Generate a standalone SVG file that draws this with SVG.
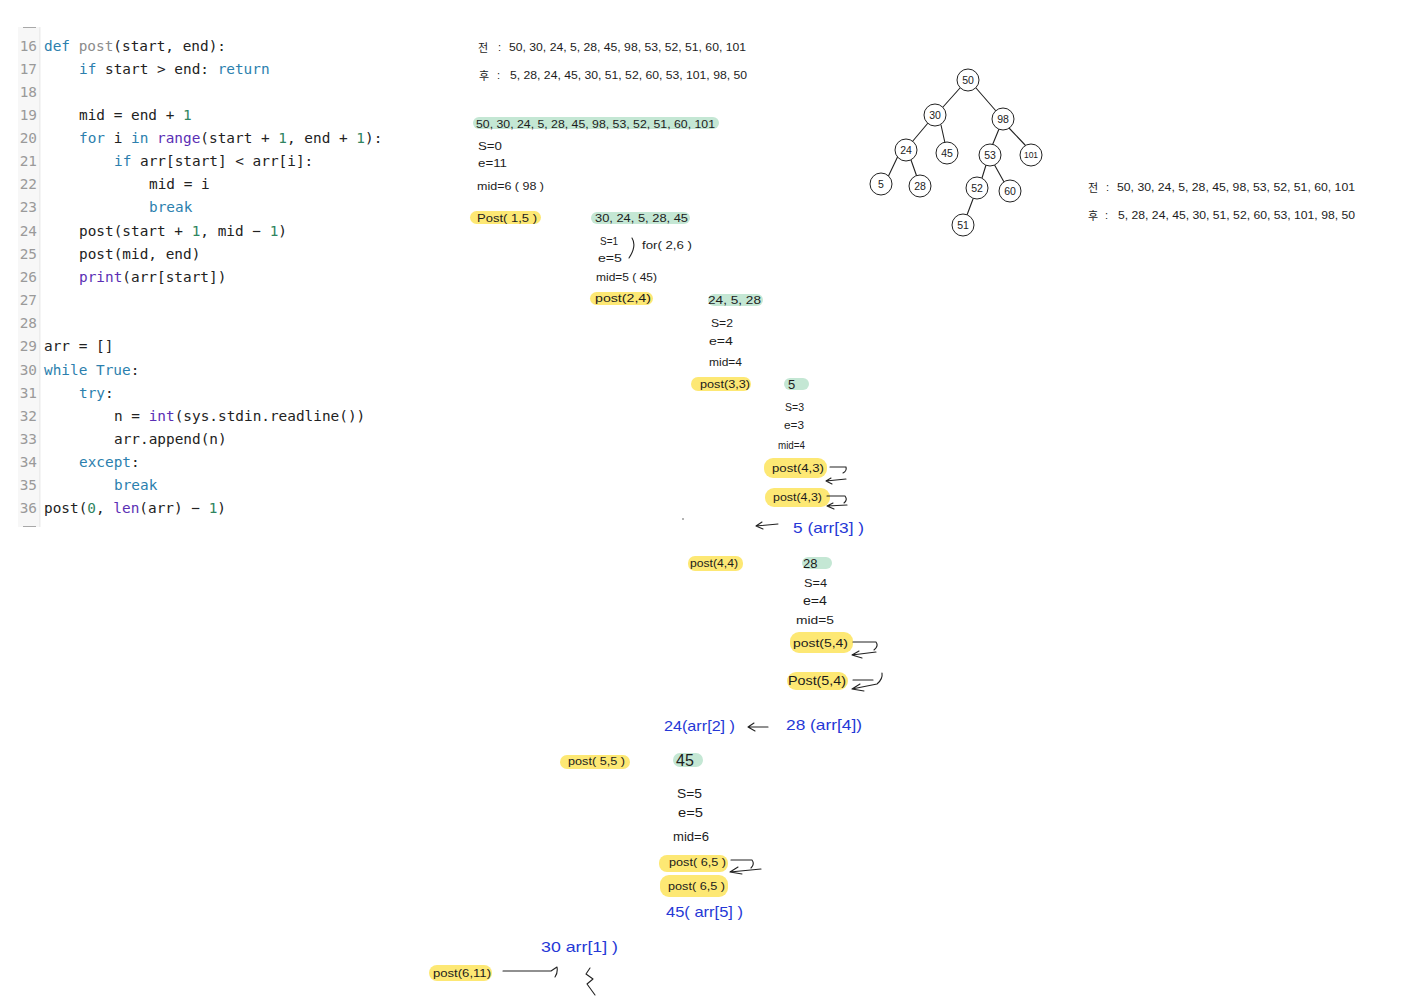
<svg xmlns="http://www.w3.org/2000/svg" width="1412" height="999" viewBox="0 0 1412 999">
<style>
.c{font-family:"DejaVu Sans Mono","Liberation Mono",monospace;font-size:14.4px;fill:#222;white-space:pre}
.n{fill:#9a9a9a;text-anchor:end}
.k{fill:#2c7fae}.f{fill:#8c8c8c}.d{fill:#2f8460}.p{fill:#5b2fb5}
.h{font-family:"Liberation Sans",Arial,"Noto Sans CJK KR",sans-serif;font-size:11px;fill:#1c1c1c}
.m{font-size:13px}
.l{font-size:16px}
.b{font-size:15px;fill:#2638d6}
.y{fill:#fde874}.g{fill:#c4e7d4}
.e{fill:none;stroke:#222;stroke-width:1.1;stroke-linecap:round;stroke-linejoin:round}
.o{fill:#fff;stroke:#222;stroke-width:1}
.t{text-anchor:middle;font-size:10.5px}
.s{font-size:8.5px}
</style>
<rect width="1412" height="999" fill="#fff"/>
<g id="code">
<rect x="18" y="27" width="22" height="500" fill="#f7f7f7"/>
<rect x="39" y="27" width="1.5" height="500" fill="#ececec"/>
<path d="M23 27.500h13M23 526.500h13" stroke="#a8a8a8" fill="none"/>
<text class="c n" x="37" y="51">16</text><text class="c" x="44" y="51"><tspan class="k">def</tspan> <tspan class="f">post</tspan>(start, end):</text>
<text class="c n" x="37" y="74">17</text><text class="c" x="79" y="74"><tspan class="k">if</tspan> start &gt; end: <tspan class="k">return</tspan></text>
<text class="c n" x="37" y="97">18</text>
<text class="c n" x="37" y="120">19</text><text class="c" x="79" y="120">mid = end + <tspan class="d">1</tspan></text>
<text class="c n" x="37" y="143">20</text><text class="c" x="79" y="143"><tspan class="k">for</tspan> i <tspan class="k">in</tspan> <tspan class="p">range</tspan>(start + <tspan class="d">1</tspan>, end + <tspan class="d">1</tspan>):</text>
<text class="c n" x="37" y="166">21</text><text class="c" x="114" y="166"><tspan class="k">if</tspan> arr[start] &lt; arr[i]:</text>
<text class="c n" x="37" y="189">22</text><text class="c" x="149" y="189">mid = i</text>
<text class="c n" x="37" y="212">23</text><text class="c k" x="149" y="212">break</text>
<text class="c n" x="37" y="236">24</text><text class="c" x="79" y="236">post(start + <tspan class="d">1</tspan>, mid − <tspan class="d">1</tspan>)</text>
<text class="c n" x="37" y="259">25</text><text class="c" x="79" y="259">post(mid, end)</text>
<text class="c n" x="37" y="282">26</text><text class="c" x="79" y="282"><tspan class="p">print</tspan>(arr[start])</text>
<text class="c n" x="37" y="305">27</text>
<text class="c n" x="37" y="328">28</text>
<text class="c n" x="37" y="351">29</text><text class="c" x="44" y="351">arr = []</text>
<text class="c n" x="37" y="375">30</text><text class="c" x="44" y="375"><tspan class="k">while True</tspan>:</text>
<text class="c n" x="37" y="398">31</text><text class="c" x="79" y="398"><tspan class="k">try</tspan>:</text>
<text class="c n" x="37" y="421">32</text><text class="c" x="114" y="421">n = <tspan class="p">int</tspan>(sys.stdin.readline())</text>
<text class="c n" x="37" y="444">33</text><text class="c" x="114" y="444">arr.append(n)</text>
<text class="c n" x="37" y="467">34</text><text class="c" x="79" y="467"><tspan class="k">except</tspan>:</text>
<text class="c n" x="37" y="490">35</text><text class="c k" x="114" y="490">break</text>
<text class="c n" x="37" y="513">36</text><text class="c" x="44" y="513">post(<tspan class="d">0</tspan>, <tspan class="p">len</tspan>(arr) − <tspan class="d">1</tspan>)</text>
</g>
<g id="highlights">
<rect class="g" x="473" y="117" width="246" height="12" rx="6"/>
<rect class="y" x="470" y="211" width="71" height="13" rx="6.500"/>
<rect class="g" x="591" y="212" width="99" height="12" rx="6"/>
<rect class="y" x="590" y="292" width="63" height="13" rx="6.500"/>
<rect class="g" x="708" y="294" width="55" height="12" rx="6"/>
<rect class="y" x="691" y="377" width="60" height="14" rx="7"/>
<rect class="g" x="784" y="378" width="25" height="12" rx="6"/>
<rect class="y" x="764" y="458" width="63" height="20" rx="9"/>
<rect class="y" x="765" y="488" width="65" height="19" rx="9"/>
<rect class="y" x="688" y="556" width="55" height="15" rx="7"/>
<rect class="g" x="802" y="557" width="30" height="12" rx="6"/>
<rect class="y" x="790" y="632" width="63" height="21" rx="9"/>
<rect class="y" x="787" y="672" width="61" height="18" rx="9"/>
<rect class="y" x="560" y="755" width="70" height="14" rx="7"/>
<rect class="g" x="673" y="753" width="30" height="14" rx="7"/>
<rect class="y" x="659" y="855" width="69" height="17" rx="8"/>
<rect class="y" x="660" y="875" width="68" height="22" rx="9"/>
<rect class="y" x="429" y="965" width="63" height="16" rx="8"/>
</g>
<g id="notes">
<text class="h" x="478" y="52">전</text><text class="h" x="498" y="51">:</text>
<text class="h" x="509" y="51" textLength="237" lengthAdjust="spacingAndGlyphs">50, 30, 24, 5, 28, 45, 98, 53, 52, 51, 60, 101</text>
<text class="h" x="479" y="80">후</text><text class="h" x="497" y="79">:</text>
<text class="h" x="510" y="79" textLength="237" lengthAdjust="spacingAndGlyphs">5, 28, 24, 45, 30, 51, 52, 60, 53, 101, 98, 50</text>
<text class="h" x="476" y="128" textLength="239" lengthAdjust="spacingAndGlyphs">50, 30, 24, 5, 28, 45, 98, 53, 52, 51, 60, 101</text>
<text class="h" x="478" y="150" textLength="24" lengthAdjust="spacingAndGlyphs">S=0</text>
<text class="h" x="478" y="167" textLength="29" lengthAdjust="spacingAndGlyphs">e=11</text>
<text class="h" x="477" y="190" textLength="67" lengthAdjust="spacingAndGlyphs">mid=6 ( 98 )</text>
<text class="h" x="477" y="222" textLength="60" lengthAdjust="spacingAndGlyphs">Post( 1,5 )</text>
<text class="h" x="595" y="222" textLength="93" lengthAdjust="spacingAndGlyphs">30, 24, 5, 28, 45</text>
<text class="h" x="600" y="245" textLength="18" lengthAdjust="spacingAndGlyphs">S=1</text>
<text class="h" x="598" y="262" textLength="24" lengthAdjust="spacingAndGlyphs">e=5</text>
<text class="h" x="642" y="249" textLength="50" lengthAdjust="spacingAndGlyphs">for( 2,6 )</text>
<text class="h" x="596" y="281" textLength="61" lengthAdjust="spacingAndGlyphs">mid=5 ( 45)</text>
<text class="h" x="595" y="302" textLength="56" lengthAdjust="spacingAndGlyphs">post(2,4)</text>
<text class="h" x="708" y="304" textLength="53" lengthAdjust="spacingAndGlyphs">24, 5, 28</text>
<text class="h" x="711" y="327" textLength="22" lengthAdjust="spacingAndGlyphs">S=2</text>
<text class="h" x="709" y="345" textLength="24" lengthAdjust="spacingAndGlyphs">e=4</text>
<text class="h" x="709" y="366" textLength="33" lengthAdjust="spacingAndGlyphs">mid=4</text>
<text class="h" x="700" y="388" textLength="50" lengthAdjust="spacingAndGlyphs">post(3,3)</text>
<text class="h m" x="788" y="389">5</text>
<text class="h" x="785" y="411" textLength="19" lengthAdjust="spacingAndGlyphs">S=3</text>
<text class="h" x="784" y="429" textLength="20" lengthAdjust="spacingAndGlyphs">e=3</text>
<text class="h" x="778" y="449" textLength="27" lengthAdjust="spacingAndGlyphs">mid=4</text>
<text class="h" x="772" y="472" textLength="52" lengthAdjust="spacingAndGlyphs">post(4,3)</text>
<text class="h" x="773" y="501" textLength="49" lengthAdjust="spacingAndGlyphs">post(4,3)</text>
<text class="h b" x="793" y="533" textLength="71" lengthAdjust="spacingAndGlyphs">5 (arr[3] )</text>
<text class="h" x="690" y="567" textLength="48" lengthAdjust="spacingAndGlyphs">post(4,4)</text>
<text class="h m" x="803" y="568">28</text>
<text class="h" x="804" y="587" textLength="23" lengthAdjust="spacingAndGlyphs">S=4</text>
<text class="h m" x="803" y="605" textLength="24" lengthAdjust="spacingAndGlyphs">e=4</text>
<text class="h" x="796" y="624" textLength="38" lengthAdjust="spacingAndGlyphs">mid=5</text>
<text class="h" x="793" y="647" textLength="55" lengthAdjust="spacingAndGlyphs">post(5,4)</text>
<text class="h m" x="788" y="685" textLength="58" lengthAdjust="spacingAndGlyphs">Post(5,4)</text>
<text class="h b" x="664" y="731" textLength="71" lengthAdjust="spacingAndGlyphs">24(arr[2] )</text>
<text class="h b" x="786" y="730" textLength="76" lengthAdjust="spacingAndGlyphs">28 (arr[4])</text>
<text class="h" x="568" y="765" textLength="57" lengthAdjust="spacingAndGlyphs">post( 5,5 )</text>
<text class="h l" x="676" y="766">45</text>
<text class="h m" x="677" y="798" textLength="25" lengthAdjust="spacingAndGlyphs">S=5</text>
<text class="h m" x="678" y="817" textLength="25" lengthAdjust="spacingAndGlyphs">e=5</text>
<text class="h m" x="673" y="841" textLength="36" lengthAdjust="spacingAndGlyphs">mid=6</text>
<text class="h" x="669" y="866" textLength="57" lengthAdjust="spacingAndGlyphs">post( 6,5 )</text>
<text class="h" x="668" y="890" textLength="57" lengthAdjust="spacingAndGlyphs">post( 6,5 )</text>
<text class="h b" x="666" y="917" textLength="77" lengthAdjust="spacingAndGlyphs">45( arr[5] )</text>
<text class="h b" x="541" y="952" textLength="77" lengthAdjust="spacingAndGlyphs">30  arr[1] )</text>
<text class="h" x="433" y="977" textLength="58" lengthAdjust="spacingAndGlyphs">post(6,11)</text>
<text class="h" x="1088" y="192">전</text><text class="h" x="1106" y="191">:</text>
<text class="h" x="1117" y="191" textLength="238" lengthAdjust="spacingAndGlyphs">50, 30, 24, 5, 28, 45, 98, 53, 52, 51, 60, 101</text>
<text class="h" x="1088" y="220">후</text><text class="h" x="1105" y="219">:</text>
<text class="h" x="1118" y="219" textLength="237" lengthAdjust="spacingAndGlyphs">5, 28, 24, 45, 30, 51, 52, 60, 53, 101, 98, 50</text>
<circle cx="683" cy="519" r="0.800" fill="#555"/>
</g>
<g id="connectors">
<path class="e" d="M960 88L943 107M976 88L996 111M928 123L912 142M941 125L945 143M999 129L992 146M1009 128L1026 146M898 156L888 177M911 160L917 177M986 165L982 178M994 164L1004 182M973 199L967 215"/>
<path class="e" d="M632 238Q637 246 629 258"/>
<path class="e" d="M830 467H846Q847 471 843 473M846 479L826 481L831 478M826 481L832 484"/>
<path class="e" d="M827 496H845Q848 500 844 503M847 505L827 506L833 503M827 506L834 509"/>
<path class="e" d="M853 642H876Q879 646 874 650M876 652L852 655L859 651M852 655L862 658"/>
<path class="e" d="M853 680H873M882 673Q883 679 877 684L852 689L860 684M852 689L864 691"/>
<path class="e" d="M778 524L756 526L762 522M756 526L763 529"/>
<path class="e" d="M768 727H748L754 723M748 727L755 731"/>
<path class="e" d="M731 860H752Q755 864 751 868M761 869L730 872L738 867M730 872L742 874"/>
<path class="e" d="M503 971H551L557 967Q558 973 555 977"/>
<path class="e" d="M590 968L586 974L593 979L587 984L595 995"/>
</g>
<g id="n50"><circle class="o" cx="968" cy="80" r="11"/><text class="h t" x="968" y="84">50</text></g>
<g id="n30"><circle class="o" cx="935" cy="115" r="11"/><text class="h t" x="935" y="119">30</text></g>
<g id="n98"><circle class="o" cx="1003" cy="119" r="11"/><text class="h t" x="1003" y="123">98</text></g>
<g id="n24"><circle class="o" cx="906" cy="150" r="11"/><text class="h t" x="906" y="154">24</text></g>
<g id="n45"><circle class="o" cx="947" cy="153" r="11"/><text class="h t" x="947" y="157">45</text></g>
<g id="n53"><circle class="o" cx="990" cy="155" r="11"/><text class="h t" x="990" y="159">53</text></g>
<g id="n101"><circle class="o" cx="1031" cy="155" r="11"/><text class="h t s" x="1031" y="158">101</text></g>
<g id="n5"><circle class="o" cx="881" cy="184" r="11"/><text class="h t" x="881" y="188">5</text></g>
<g id="n28"><circle class="o" cx="920" cy="186" r="11"/><text class="h t" x="920" y="190">28</text></g>
<g id="n52"><circle class="o" cx="977" cy="188" r="11"/><text class="h t" x="977" y="192">52</text></g>
<g id="n60"><circle class="o" cx="1010" cy="191" r="11"/><text class="h t" x="1010" y="195">60</text></g>
<g id="n51"><circle class="o" cx="963" cy="225" r="11"/><text class="h t" x="963" y="229">51</text></g>
</svg>
